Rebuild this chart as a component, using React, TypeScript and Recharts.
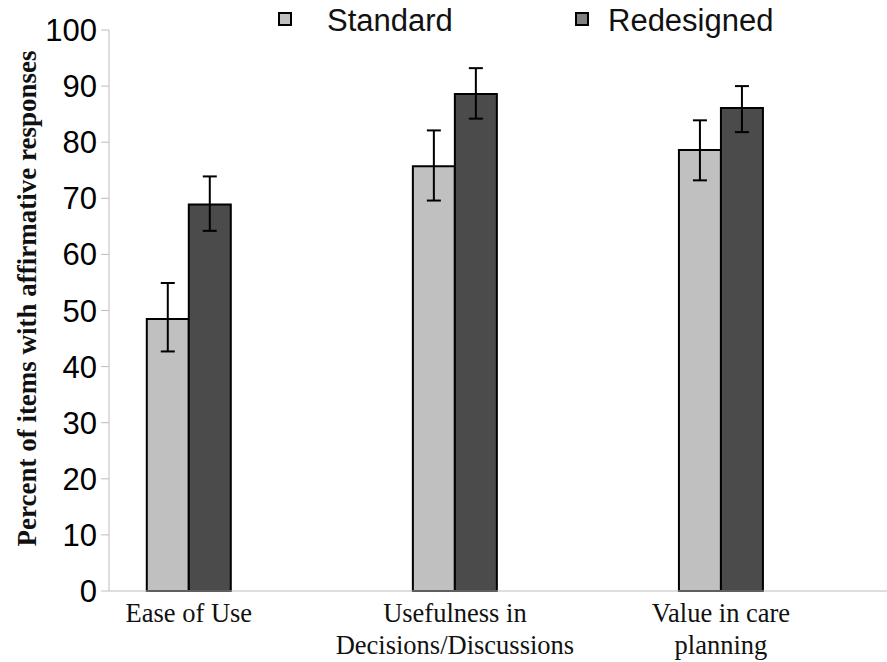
import React from "react";
import { Bar, BarChart, ErrorBar, Legend, XAxis, YAxis } from "recharts";

const categories = ["Ease of Use", "Usefulness in\nDecisions/Discussions", "Value in care\nplanning"];
const seriesNames = ["Standard", "Redesigned"];
const standardValues = [48.5, 75.7, 78.6];
const standardErrors: [number, number][] = [[5.8, 6.4], [6.1, 6.4], [5.4, 5.3]];
const redesignedValues = [68.9, 88.6, 86.1];
const redesignedErrors: [number, number][] = [[4.7, 5.0], [4.4, 4.6], [4.3, 3.9]];
const yTicks = [0, 10, 20, 30, 40, 50, 60, 70, 80, 90, 100];

const barFills = ["#c0c0c0", "#4b4b4b"];
const legendFills = ["#c0c0c0", "#808080"];
const axisGray = "#bdbdbd";
const serif = "'Liberation Serif', 'Times New Roman', serif";
const sans = "'Liberation Sans', Arial, sans-serif";

const data = categories.map((name, i) => ({
  idx: i,
  name,
  standard: standardValues[i],
  standardErr: standardErrors[i],
  redesigned: redesignedValues[i],
  redesignedErr: redesignedErrors[i],
}));

// legend item placement (marker left, text left)
const legendPos = [
  { marker: 278, text: 327 },
  { marker: 575, text: 608 },
];

function LegendContent() {
  return (
    <div style={{ position: "relative", height: 30, width: 887 }}>
      {seriesNames.map((s, i) => (
        <React.Fragment key={s}>
          <div
            style={{
              position: "absolute",
              left: legendPos[i].marker,
              top: 12,
              width: 10,
              height: 10,
              background: legendFills[i],
              border: "2px solid #000",
            }}
          />
          <div
            style={{
              position: "absolute",
              left: legendPos[i].text,
              top: 5,
              fontFamily: sans,
              fontSize: 31,
              lineHeight: "31px",
              color: "#111",
              whiteSpace: "nowrap",
            }}
          >
            {s}
          </div>
        </React.Fragment>
      ))}
    </div>
  );
}

function CategoryTick(props: any) {
  const { x, y, payload } = props;
  const lines = categories[payload.value].split("\n");
  return (
    <text x={x} y={y} textAnchor="middle" fontFamily={serif} fontSize={26.5} fill="#111">
      {lines.map((l, i) => (
        <tspan key={i} x={x} dy={i === 0 ? 31 : 32}>
          {l}
        </tspan>
      ))}
    </text>
  );
}

function YTitle(props: any) {
  const vb = props.viewBox || { x: 0, y: 30, width: 109, height: 561 };
  const cx = vb.x + 36;
  const cy = vb.y + vb.height / 2 - 12;
  return (
    <text
      x={cx}
      y={cy}
      transform={`rotate(-90 ${cx} ${cy})`}
      textAnchor="middle"
      fontFamily={serif}
      fontWeight="bold"
      fontSize={27}
      fill="#111"
    >
      Percent of items with affirmative responses
    </text>
  );
}

export default function App() {
  return (
    <div style={{ position: "absolute", left: 0, top: 0, width: 887, height: 662, background: "#fff" }}>
      <BarChart width={887} height={662} data={data} margin={{ top: 0, right: 0, bottom: 0, left: 0 }} barGap={0}>
        <Legend verticalAlign="top" align="left" content={<LegendContent />} />
        <XAxis
          dataKey="idx"
          type="number"
          domain={[-0.3, 2.624]}
          ticks={[0, 1, 2]}
          allowDataOverflow
          interval={0}
          height={71}
          tickLine={false}
          tickSize={0}
          tickMargin={0}
          axisLine={{ stroke: axisGray }}
          tick={<CategoryTick />}
        />
        <YAxis
          domain={[0, 100]}
          ticks={yTicks}
          interval={0}
          width={109}
          tickSize={8}
          tickMargin={4}
          axisLine={{ stroke: axisGray }}
          tickLine={{ stroke: axisGray }}
          tick={{ fontSize: 31, fill: "#000", fontFamily: sans }}
          label={<YTitle />}
        />
        <Bar dataKey="standard" name={seriesNames[0]} fill={barFills[0]} stroke="#000" strokeWidth={2} barSize={42} isAnimationActive={false}>
          <ErrorBar dataKey="standardErr" width={7} stroke="#000" strokeWidth={2} />
        </Bar>
        <Bar dataKey="redesigned" name={seriesNames[1]} fill={barFills[1]} stroke="#000" strokeWidth={2} barSize={42} isAnimationActive={false}>
          <ErrorBar dataKey="redesignedErr" width={7} stroke="#000" strokeWidth={2} />
        </Bar>
      </BarChart>
    </div>
  );
}
